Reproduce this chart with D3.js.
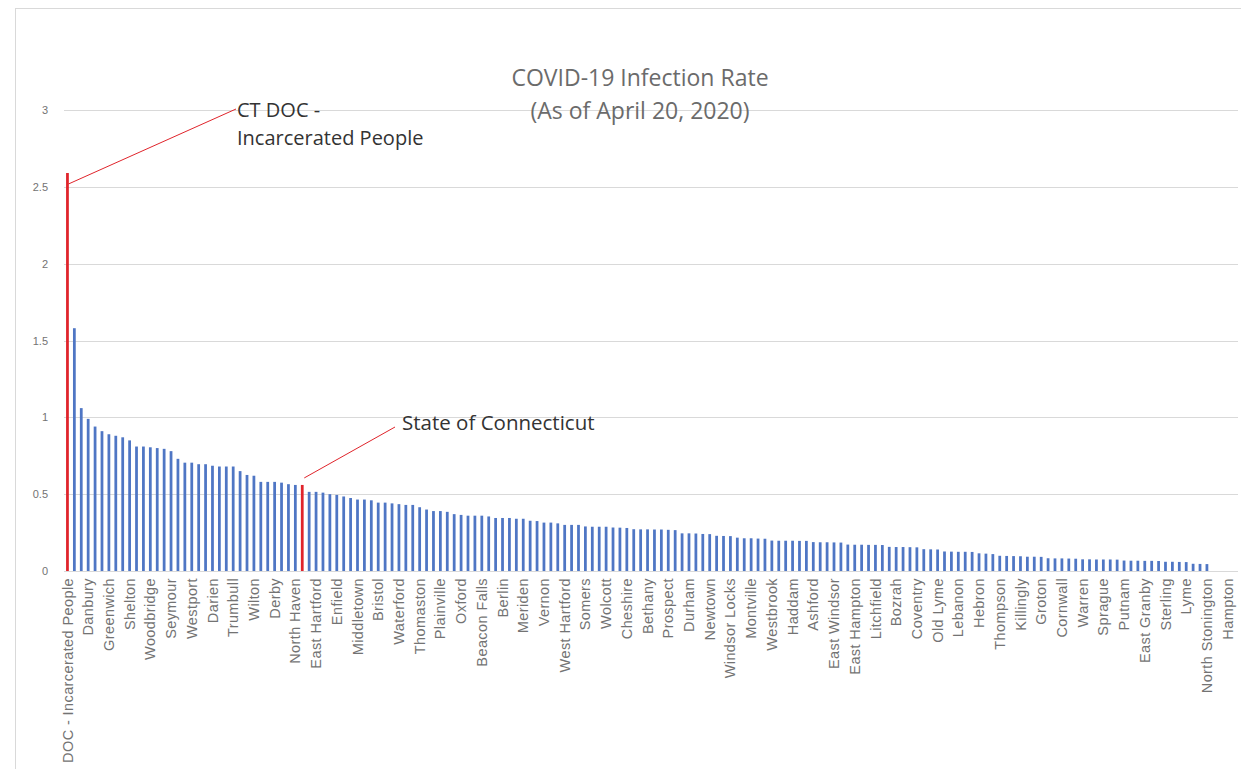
<!DOCTYPE html>
<html>
<head>
<meta charset="utf-8">
<script src="https://cdn.jsdelivr.net/npm/d3@7"></script>
<style>
  body { margin: 0; background: #fff; }
  svg { display: block; font-family: "Open Sans", "Liberation Sans", sans-serif; }
  .axis path, .axis line { display: none; }
  .axis text { fill: #737373; }
</style>
</head>
<body>
<svg id="chart"></svg>
<script>
// infection rate (%) per town, sorted, index 0 = CT DOC, index 34 = State of Connecticut
const rates = [
  2.59, 1.58, 1.06, 0.99, 0.94, 0.91, 0.89, 0.88, 0.87, 0.85,
  0.81, 0.81, 0.805, 0.80, 0.795, 0.78, 0.73, 0.705, 0.705, 0.695,
  0.695, 0.685, 0.68, 0.68, 0.68, 0.65, 0.625, 0.62, 0.58, 0.58,
  0.58, 0.575, 0.565, 0.56, 0.56, 0.515, 0.515, 0.51, 0.50, 0.495,
  0.485, 0.475, 0.465, 0.465, 0.46, 0.445, 0.445, 0.44, 0.435, 0.43,
  0.43, 0.415, 0.40, 0.39, 0.39, 0.385, 0.37, 0.365, 0.36, 0.36,
  0.36, 0.355, 0.345, 0.345, 0.345, 0.34, 0.34, 0.327, 0.325, 0.315,
  0.315, 0.31, 0.30, 0.30, 0.30, 0.29, 0.288, 0.288, 0.288, 0.283,
  0.282, 0.28, 0.272, 0.271, 0.271, 0.27, 0.27, 0.268, 0.266, 0.245,
  0.245, 0.244, 0.241, 0.24, 0.229, 0.228, 0.227, 0.217, 0.213, 0.213,
  0.211, 0.21, 0.198, 0.197, 0.197, 0.197, 0.196, 0.196, 0.188, 0.187,
  0.187, 0.186, 0.185, 0.172, 0.171, 0.171, 0.17, 0.17, 0.169, 0.157,
  0.156, 0.156, 0.155, 0.154, 0.142, 0.141, 0.14, 0.127, 0.126, 0.125,
  0.125, 0.124, 0.115, 0.113, 0.11, 0.099, 0.098, 0.097, 0.096, 0.093,
  0.093, 0.092, 0.083, 0.082, 0.082, 0.081, 0.08, 0.076, 0.076, 0.075,
  0.075, 0.075, 0.074, 0.068, 0.067, 0.067, 0.066, 0.066, 0.065, 0.06,
  0.06, 0.059, 0.058, 0.047, 0.046, 0.045, 0, 0, 0, 0
];

// only every third town is labelled on the axis
const tickLabels = [
  'DOC - Incarcerated People', 'Danbury', 'Greenwich', 'Shelton', 'Woodbridge', 'Seymour',
  'Westport', 'Darien', 'Trumbull', 'Wilton', 'Derby', 'North Haven', 'East Hartford',
  'Enfield', 'Middletown', 'Bristol', 'Waterford', 'Thomaston', 'Plainville', 'Oxford',
  'Beacon Falls', 'Berlin', 'Meriden', 'Vernon', 'West Hartford', 'Somers', 'Wolcott',
  'Cheshire', 'Bethany', 'Prospect', 'Durham', 'Newtown', 'Windsor Locks', 'Montville',
  'Westbrook', 'Haddam', 'Ashford', 'East Windsor', 'East Hampton', 'Litchfield', 'Bozrah',
  'Coventry', 'Old Lyme', 'Lebanon', 'Hebron', 'Thompson', 'Killingly', 'Groton',
  'Cornwall', 'Warren', 'Sprague', 'Putnam', 'East Granby', 'Sterling', 'Lyme',
  'North Stonington', 'Hampton'
];
const labelEvery = 3;

const highlighted = [0, 34];   // DOC and statewide bars
const yTicks = [0, 0.5, 1, 1.5, 2, 2.5, 3];

const titleLines = ['COVID-19 Infection Rate', '(As of April 20, 2020)'];
const docNote = ['CT DOC -', 'Incarcerated People'];
const stateNote = 'State of Connecticut';

const config = {
  width: 1241,
  height: 769,
  margin: {top: 110, right: 3, bottom: 198, left: 64}
};

const svg = d3.select('#chart')
    .attr('width', config.width)
    .attr('height', config.height);

// outer frame of the chart object
svg.append('rect')
    .attr('x', 15.5).attr('y', 8.5)
    .attr('width', config.width + 20).attr('height', config.height + 20)
    .attr('fill', 'none')
    .attr('stroke', '#d9d9d9');

const chart = svg.append('g')
    .attr('transform', `translate(${config.margin.left},${config.margin.top})`);

const width = config.width - config.margin.left - config.margin.right;
const height = config.height - config.margin.top - config.margin.bottom;

const xScale = d3.scaleBand()
    .domain(d3.range(rates.length))
    .range([0, width])
    .paddingInner(0.6)
    .paddingOuter(0.3);

const yScale = d3.scaleLinear()
    .domain([0, 3])
    .range([height, 0]);

// gridlines
chart.selectAll('.grid')
    .data(yTicks)
    .join('line')
    .attr('class', 'grid')
    .attr('x1', 0)
    .attr('x2', width)
    .attr('y1', d => Math.round(yScale(d)) + 0.5)
    .attr('y2', d => Math.round(yScale(d)) + 0.5)
    .attr('stroke', '#d9d9d9')
    .attr('stroke-width', 1);

// y axis
const yAxis = d3.axisLeft(yScale)
    .tickValues(yTicks)
    .tickFormat(d => d)
    .tickSize(0)
    .tickPadding(16);

chart.append('g')
    .attr('class', 'axis y-axis')
    .call(yAxis)
    .selectAll('text')
    .style('font-size', '11px');

// bars
chart.selectAll('.bar')
    .data(rates)
    .join('rect')
    .attr('class', 'bar')
    .attr('x', (d, i) => xScale(i))
    .attr('width', xScale.bandwidth())
    .attr('y', d => yScale(d))
    .attr('height', d => height - yScale(d))
    .attr('fill', (d, i) => highlighted.includes(i) ? '#e0242b' : '#4f76c4');

// x axis with every third label rotated
const xAxis = d3.axisBottom(xScale)
    .tickValues(d3.range(0, rates.length, labelEvery))
    .tickFormat(i => tickLabels[i / labelEvery])
    .tickSize(0);

chart.append('g')
    .attr('class', 'axis x-axis')
    .attr('transform', `translate(0,${height})`)
    .call(xAxis)
    .selectAll('text')
    .style('font-size', '14.5px')
    .style('letter-spacing', '0.4px')
    .attr('text-anchor', 'end')
    .attr('transform', 'rotate(-90)')
    .attr('x', -7)
    .attr('y', 0)
    .attr('dy', '0.35em');

// baseline
chart.append('line')
    .attr('x1', 0).attr('x2', width)
    .attr('y1', height + 0.5).attr('y2', height + 0.5)
    .attr('stroke', '#d9d9d9');

// title
svg.append('g')
    .selectAll('text')
    .data(titleLines)
    .join('text')
    .attr('x', 640)
    .attr('y', (d, i) => 86 + i * 33)
    .attr('text-anchor', 'middle')
    .attr('fill', '#6b6b6b')
    .style('font-size', '23px')
    .text(d => d);

// callouts
const barCenter = i => config.margin.left + xScale(i) + xScale.bandwidth() / 2;
const barTop = i => config.margin.top + yScale(rates[i]);

svg.append('line')
    .attr('x1', barCenter(0) + 1).attr('y1', barTop(0) + 11)
    .attr('x2', 236).attr('y2', 109)
    .attr('stroke', '#e0242b')
    .attr('stroke-width', 1);

svg.append('g')
    .selectAll('text')
    .data(docNote)
    .join('text')
    .attr('x', 237)
    .attr('y', (d, i) => 117 + i * 28)
    .attr('fill', '#333')
    .style('font-size', '20px')
    .text(d => d);

svg.append('line')
    .attr('x1', barCenter(34) + 2).attr('y1', barTop(34) - 7)
    .attr('x2', 395).attr('y2', 427)
    .attr('stroke', '#e0242b')
    .attr('stroke-width', 1);

svg.append('text')
    .attr('x', 402)
    .attr('y', 430)
    .attr('fill', '#333')
    .style('font-size', '20.5px')
    .text(stateNote);
</script>
</body>
</html>
